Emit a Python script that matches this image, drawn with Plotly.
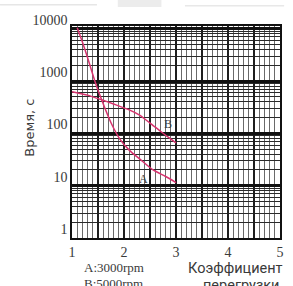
import plotly.graph_objects as go

# Data (overload factor vs. time, s)
overload_a = [1.1, 1.2, 1.3, 1.44, 1.57, 1.75, 1.92, 2.1, 2.31, 2.56, 2.8, 3.0]
time_a = [10500, 5600, 2800, 1000, 440, 160, 78, 48, 32, 20, 15, 11.5]

overload_b = [1.0, 1.3, 1.57, 1.8, 2.1, 2.3, 2.5, 2.7, 2.85, 3.0]
time_b = [630, 540, 440, 365, 282, 224, 158, 110, 85, 66]

x_tickvals = [1, 1.5, 2, 2.5, 3, 3.5, 4, 4.5, 5]
x_ticktext = ["1", "", "2", "", "3", "", "4", "", "5"]
y_tickvals = [1, 10, 100, 1000, 10000]
y_ticktext = ["1", "10", "100", "1000", "10000"]

curve_color = "#d8336e"
text_color = "#3a3a3a"
serif = "Liberation Serif"

fig = go.Figure()
fig.add_trace(go.Scatter(x=overload_a, y=time_a, mode="lines", line=dict(color=curve_color, width=1.5, shape="spline", smoothing=0.6), name="A"))
fig.add_trace(go.Scatter(x=overload_b, y=time_b, mode="lines", line=dict(color=curve_color, width=1.5, shape="spline", smoothing=0.6), name="B"))

fig.update_layout(
    width=293, height=286,
    margin=dict(l=72, r=13, t=26, b=48, pad=0, autoexpand=False),
    paper_bgcolor="white", plot_bgcolor="white",
    showlegend=False,
    font=dict(family=serif, color=text_color, size=14),
    xaxis=dict(
        range=[1, 5], tickvals=x_tickvals, ticktext=x_ticktext, automargin=False,
        showgrid=True, gridcolor="#1e1e1e", gridwidth=1.5,
        minor=dict(dtick=0.1, showgrid=True, gridcolor="#6a6a6a", gridwidth=1),
        showline=True, mirror=True, linecolor="#111", linewidth=1.5,
        ticks="", zeroline=False, tickfont=dict(family=serif, size=14, color=text_color),
    ),
    yaxis=dict(
        type="log", range=[0, 4.055], tickvals=y_tickvals, ticktext=y_ticktext, automargin=False,
        showgrid=True, gridcolor="#111", gridwidth=2.5,
        minor=dict(dtick="D1", showgrid=True, gridcolor="#2a2a2a", gridwidth=1),
        showline=True, mirror=True, linecolor="#111", linewidth=1.5,
        ticks="", zeroline=False, ticklabelshift=-9,
        tickfont=dict(family=serif, size=14, color=text_color),
    ),
)

def note(x, y, text, family, size, ref="paper", angle=0):
    return dict(x=x, y=y, xref=ref if ref == "paper" else "x", yref=ref if ref == "paper" else "y",
                text=text, showarrow=False, xanchor="center", yanchor="middle", textangle=angle,
                font=dict(family=family, size=size, color=text_color))

annotations = [
    note(2.85, 2.185, "B", serif, 12, ref="data"),
    note(2.37, 1.12, "A", serif, 12, ref="data"),
    note(-0.202, 0.52, "Время, с", "DejaVu Sans", 13, angle=-90),
    note(0.2, -0.139, "A:3000rpm", serif, 13),
    note(0.2, -0.214, "B:5000rpm", serif, 13),
    note(0.784, -0.142, "Коэффициент", "Roboto", 14.5),
    note(0.813, -0.224, "перегрузки", "Roboto", 14.5),
]
fig.update_layout(annotations=annotations)

# faint scan artifacts along the top edge
fig.add_shape(type="line", xref="paper", yref="paper", x0=-0.346, x1=0.12, y0=1.1, y1=1.1,
              line=dict(color="#e6e6e6", width=1.5))
fig.add_shape(type="rect", xref="paper", yref="paper", x0=0.22, x1=0.43, y0=1.09, y1=1.125,
              line=dict(width=0), fillcolor="#ececec")
fig.add_shape(type="line", xref="paper", yref="paper", x0=0.543, x1=1.02, y0=1.095, y1=1.095,
              line=dict(color="#e8e8e8", width=1.5))

fig.write_html("out.html", config={"displayModeBar": False},
               post_script="document.body.style.margin='0';")
